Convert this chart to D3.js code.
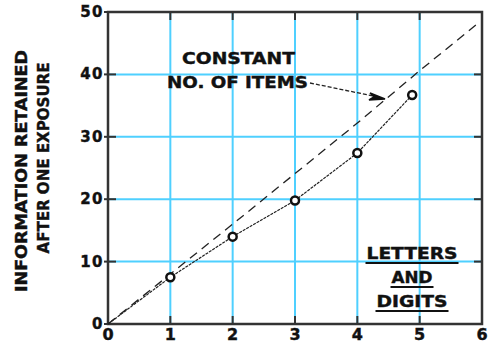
<!DOCTYPE html>
<html>
<head>
<meta charset="utf-8">
<script src="https://cdn.jsdelivr.net/npm/d3@7"></script>
<style>
  body { margin: 0; background: #fff; }
  text { font-family: "DejaVu Sans", sans-serif; font-weight: bold; fill: #111; stroke: #111; stroke-width: 0.4; }
</style>
</head>
<body>
<svg id="chart" width="488" height="345"></svg>
<script>
// values
const xTicks = [0, 1, 2, 3, 4, 5, 6];
const yTicks = [0, 10, 20, 30, 40, 50];
const lettersX = [0, 1, 2, 3, 4, 4.88];
const lettersY = [0, 7.5, 14, 19.8, 27.4, 36.7];
const constX = [0, 1, 2, 3, 4, 5, 5.95];
const constY = [0, 8, 16, 24.1, 32.2, 40.6, 48.3];
const yTitle = ["INFORMATION RETAINED", "AFTER ONE EXPOSURE"];
const legendLines = ["LETTERS", "AND", "DIGITS"];

const svg = d3.select("#chart");
const x = d3.scaleLinear().domain([0, 6]).range([108, 482]);
const y = d3.scaleLinear().domain([0, 50]).range([324, 12]);
const blue = "#4fd0ff";
const tick = 8;

// grid
svg.append("g").selectAll("line")
    .data(xTicks.slice(1, -1))
    .join("line")
    .attr("x1", d => x(d)).attr("x2", d => x(d))
    .attr("y1", y(50)).attr("y2", y(0))
    .attr("stroke", blue).attr("stroke-width", 2);
svg.append("g").selectAll("line")
    .data(yTicks.slice(1, -1))
    .join("line")
    .attr("y1", d => y(d)).attr("y2", d => y(d))
    .attr("x1", x(0)).attr("x2", x(6))
    .attr("stroke", blue).attr("stroke-width", 2);

// black tick marks at grid ends
const tk = svg.append("g").attr("stroke", "#333").attr("stroke-width", 2);
xTicks.slice(1, -1).forEach(d => {
    tk.append("line").attr("x1", x(d)).attr("x2", x(d)).attr("y1", y(0)).attr("y2", y(0) - tick);
    tk.append("line").attr("x1", x(d)).attr("x2", x(d)).attr("y1", y(50)).attr("y2", y(50) + tick);
});
yTicks.slice(1, -1).forEach(d => {
    tk.append("line").attr("y1", y(d)).attr("y2", y(d)).attr("x1", x(0) - 4).attr("x2", x(0) + tick);
    tk.append("line").attr("y1", y(d)).attr("y2", y(d)).attr("x1", x(6)).attr("x2", x(6) - tick);
});
tk.append("line").attr("y1", y(50)).attr("y2", y(50)).attr("x1", x(0) - 4).attr("x2", x(0));
tk.append("line").attr("y1", y(0)).attr("y2", y(0)).attr("x1", x(0) - 4).attr("x2", x(0));

// frame
svg.append("rect")
    .attr("x", x(0)).attr("y", y(50))
    .attr("width", x(6) - x(0)).attr("height", y(0) - y(50))
    .attr("fill", "none").attr("stroke", "#333").attr("stroke-width", 2.5);

// tick labels
svg.append("g").selectAll("text")
    .data(yTicks)
    .join("text")
    .attr("x", x(0) - 4).attr("y", d => y(d) + 5)
    .attr("text-anchor", "end")
    .attr("font-size", 15)
    .attr("letter-spacing", 1.5)
    .text(d => d);
svg.append("g").selectAll("text")
    .data(xTicks)
    .join("text")
    .attr("x", d => x(d)).attr("y", 340)
    .attr("text-anchor", "middle")
    .attr("font-size", 16)
    .text(d => d);

// y title
svg.append("g").selectAll("text")
    .data(yTitle)
    .join("text")
    .attr("transform", (d, i) => `translate(${27 + i * 22},${i ? 158 : 171}) rotate(-90)`)
    .attr("text-anchor", "middle")
    .attr("font-size", 15)
    .attr("textLength", (d, i) => i ? 191 : 242)
    .attr("lengthAdjust", "spacingAndGlyphs")
    .text(d => d);

// lines
const lineGen = d3.line().x(d => x(d[0])).y(d => y(d[1]));
svg.append("path")
    .datum(d3.zip(constX, constY))
    .attr("d", lineGen)
    .attr("fill", "none").attr("stroke", "#222").attr("stroke-width", 1.3)
    .attr("stroke-dasharray", "9,6");
svg.append("path")
    .datum(d3.zip(lettersX, lettersY))
    .attr("d", lineGen)
    .attr("fill", "none").attr("stroke", "#222").attr("stroke-width", 1.2)
    .attr("stroke-dasharray", "3,1");
svg.append("g").selectAll("circle")
    .data(d3.zip(lettersX, lettersY).slice(1))
    .join("circle")
    .attr("cx", d => x(d[0])).attr("cy", d => y(d[1]))
    .attr("r", 4)
    .attr("fill", "#fff").attr("stroke", "#111").attr("stroke-width", 2.5);

// annotation
svg.append("text").attr("x", 182).attr("y", 64).attr("font-size", 15)
    .attr("textLength", 113).attr("lengthAdjust", "spacingAndGlyphs").text("CONSTANT");
svg.append("text").attr("x", 167).attr("y", 88).attr("font-size", 15)
    .attr("textLength", 141).attr("lengthAdjust", "spacingAndGlyphs").text("NO. OF ITEMS");
svg.append("path")
    .attr("d", "M310,83 L378,97")
    .attr("fill", "none").attr("stroke", "#222").attr("stroke-width", 1.3)
    .attr("stroke-dasharray", "4,2");
svg.append("path")
    .attr("d", "M385,99 L370,93 L374,97 L369,100 Z")
    .attr("fill", "#111").attr("stroke", "#111").attr("stroke-width", 1.5);

// legend label
const lg = svg.append("g");
const lgY = [259, 283, 307];
const lgW = [91, 41, 71];
legendLines.forEach((t, i) => {
    lg.append("text").attr("x", 412).attr("y", lgY[i])
        .attr("text-anchor", "middle").attr("font-size", 15)
        .attr("textLength", lgW[i]).attr("lengthAdjust", "spacingAndGlyphs")
        .text(t);
    lg.append("line")
        .attr("x1", 412 - lgW[i] / 2 - 1).attr("x2", 412 + lgW[i] / 2 + 1)
        .attr("y1", lgY[i] + 4).attr("y2", lgY[i] + 4)
        .attr("stroke", "#111").attr("stroke-width", 2);
});
</script>
</body>
</html>
